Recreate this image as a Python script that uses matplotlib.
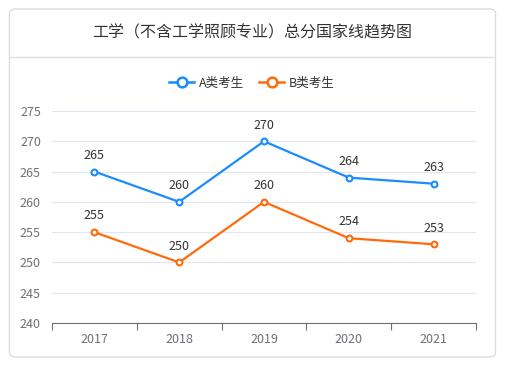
import matplotlib.pyplot as plt
from matplotlib.patches import FancyBboxPatch
from matplotlib.lines import Line2D

plt.rcParams['font.family'] = ['Noto Sans CJK SC', 'DejaVu Sans']

# ── DATA ──────────────────────────────────────────────
years = ['2017', '2018', '2019', '2020', '2021']
score_a = [265, 260, 270, 264, 263]
score_b = [255, 250, 260, 254, 253]
series_names = ['A类考生', 'B类考生']
title = '工学（不含工学照顾专业）总分国家线趋势图'

COL_A = '#1a8cff'
COL_B = '#ff6a0c'
W, H = 506, 368

fig = plt.figure(figsize=(W / 100, H / 100), dpi=100)

# card background + header separator
card = FancyBboxPatch((9.5 / W, 11 / H), 486 / W, 348 / H,
                      boxstyle='round,pad=0,rounding_size=0.012',
                      transform=fig.transFigure, facecolor='white',
                      edgecolor='#dcdcdc', linewidth=1.0, zorder=-5)
fig.patches.append(card)
fig.add_artist(Line2D([9.5 / W, 495.5 / W], [1 - 57 / H, 1 - 57 / H],
                      transform=fig.transFigure, color='#e0e0e0', linewidth=1.0))

fig.text(252 / W, 1 - 33 / H, title, ha='center', va='center',
         fontsize=11.5, color='#333333')

ax = fig.add_axes([52 / W, 1 - 323 / H, 424 / W, 212 / H])
ax.set_zorder(2)
x = list(range(len(years)))

handles = []
for vals, col, name in [(score_a, COL_A, series_names[0]), (score_b, COL_B, series_names[1])]:
    ax.plot(x, vals, color=col, linewidth=1.6, marker='o', markersize=4.2,
            markerfacecolor='white', markeredgecolor=col, markeredgewidth=1.5,
            zorder=3)
    for xi, v in zip(x, vals):
        ax.annotate(str(v), (xi, v), xytext=(0, 7), textcoords='offset points',
                    ha='center', va='bottom', fontsize=9, color='#333333')
    handles.append(Line2D([], [], color=col, linewidth=1.8, marker='o', markersize=7,
                          markerfacecolor='white', markeredgecolor=col,
                          markeredgewidth=1.8, label=name))

ax.set_xlim(-0.5, len(years) - 0.5)
ax.set_ylim(240, 275)
ax.set_yticks(range(240, 276, 5))
ax.set_xticks(x)
ax.set_xticklabels(years)
ax.set_xticks([i - 0.5 for i in range(len(years) + 1)], minor=True)
ax.tick_params(axis='x', which='major', length=0, pad=7, labelsize=9, labelcolor='#6e7079')
ax.tick_params(axis='x', which='minor', length=5, color='#6e7079', width=0.8)
ax.tick_params(axis='y', length=0, pad=8, labelsize=9, labelcolor='#6e7079')
ax.grid(axis='y', color='#e0e6f1', linewidth=0.8)
ax.set_axisbelow(True)
for s in ['top', 'right', 'left']:
    ax.spines[s].set_visible(False)
ax.spines['bottom'].set_color('#6e7079')
ax.spines['bottom'].set_linewidth(0.8)
ax.patch.set_alpha(0)

fig.legend(handles=handles, loc='center', bbox_to_anchor=(252 / W, 1 - 83 / H), ncol=2,
           frameon=False, fontsize=9, handlelength=2.0, handletextpad=0.4,
           columnspacing=1.2, labelcolor='#333333')

fig.savefig('out.png', dpi=100)
